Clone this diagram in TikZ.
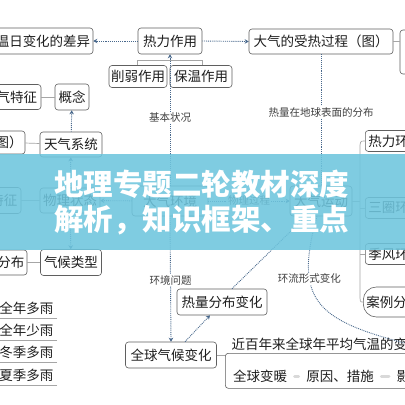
\documentclass[tikz,border=0pt]{standalone}
\usepackage{fontspec}
\setmainfont{Noto Sans CJK SC}
\usetikzlibrary{arrows.meta}

\definecolor{dotblue}{RGB}{72,104,140}
\definecolor{banner}{RGB}{110,197,221}
\definecolor{boxline}{RGB}{95,95,95}
\definecolor{txt}{RGB}{30,30,30}

\begin{document}
\begin{tikzpicture}[x=1pt,y=-1pt,
  box/.style={draw=boxline,line width=0.6pt,rounded corners=3pt,text=txt,inner sep=0pt,font=\fontsize{13.5}{15}\selectfont},
  rbox/.style={box,anchor=west,text width=52pt,inner xsep=3pt,minimum height=21pt,align=left},
  txtn/.style={text=txt,inner sep=1.5pt,minimum height=20pt,font=\fontsize{13.5}{15}\selectfont},
  lbl/.style={fill=white,text=txt!85,inner sep=1pt,font=\fontsize{10.5}{12}\selectfont},
  dline/.style={dotblue,densely dotted,line width=0.9pt},
  arr/.style={dline,-{Stealth[length=4pt,width=4.5pt]}},
  gline/.style={black!35,line width=0.7pt},
  dotc/.style={black!15,line width=3pt,line cap=round,shorten <=6pt,shorten >=6pt}]
\useasboundingbox (0,0) rectangle (405,405);
\clip (0,0) rectangle (405,405);
\fill[white] (0,0) rectangle (405,405);

% top row
\node[box,minimum width=100pt,minimum height=26pt] (rcbh) at (43,41) {温日变化的差异};
\node[box,minimum width=64pt,minimum height=26pt] (rlzy) at (170,41) {热力作用};
\node[box,minimum width=144pt,minimum height=25pt] (srgc) at (321,41.5) {大气的受热过程（图）};
\node[box,minimum width=30pt,minimum height=44pt] (rtop) at (415,52) {};
\node[box,minimum width=58pt,minimum height=22pt] (xrzy) at (138,76.5) {削弱作用};
\node[box,minimum width=62pt,minimum height=22pt] (bwzy) at (201,76.5) {保温作用};

% left column
\node[box,minimum width=48pt,minimum height=25pt] (tqtz) at (17,97) {气特征};
\node[box,minimum width=34pt,minimum height=26pt] (gn) at (72,97) {概念};
\node[box,minimum width=32pt,minimum height=23pt] (tu) at (9,142.5) {图）};
\node[box,minimum width=62pt,minimum height=25pt] (tqxt) at (71,144.5) {天气系统};
\node[box,minimum width=34pt,minimum height=26pt] (tz) at (4,200.5) {特征};
\node[box,minimum width=60pt,minimum height=25pt] (wlzt) at (70,200.5) {物理状态};
\node[box,minimum width=32pt,minimum height=25pt] (fb) at (11,262.5) {分布};
\node[box,minimum width=61pt,minimum height=26pt] (qhlx) at (71,262.5) {气候类型};

% middle
\node[box,minimum width=76pt,minimum height=30pt] (dqhj) at (170,201) {大气环境};
\node[box,minimum width=62pt,minimum height=30pt] (dqyd) at (321,201) {大气运动};

% right column
\node[rbox] (rlhl) at (365,141) {热力环};
\node[rbox] (sqhl) at (365,208) {三圈环};
\node[rbox] (jfhl) at (365,254) {季风环};
\node[rbox,rounded corners=13pt,minimum height=30pt] (alfx) at (363,302) {案例分};

% bottom
\node[box,minimum width=90pt,minimum height=26pt] (rlfb) at (222,302) {热量分布变化};
\node[box,minimum width=91pt,minimum height=26pt] (qqqh) at (171,355) {全球气候变化};
\node[box,minimum width=210pt,minimum height=35pt,anchor=north west] (bhbox) at (225,353) {};
\node[txtn,anchor=west] (jbn) at (230,344) {近百年来全球年平均气温的变};
\node[txtn] (qqbn) at (260,376) {全球变暖};
\node[txtn] (yycs) at (340,376) {原因、措施};
\node[txtn,anchor=west] (yx) at (395,376) {影响};

\node[txtn,anchor=east,inner xsep=3.5pt] (qndy) at (57,308) {全年多雨};
\node[txtn,anchor=east,inner xsep=3.5pt] (qnsy) at (57,330) {全年少雨};
\node[txtn,anchor=east,inner xsep=3.5pt] (djdy) at (57,352) {冬季多雨};
\node[txtn,anchor=east,inner xsep=3.5pt] (xjdy) at (57,375) {夏季多雨};
\draw[gline] (qndy.south east) -- ++(-70,0);
\draw[gline] (qnsy.south east) -- ++(-70,0);
\draw[gline] (djdy.south east) -- ++(-70,0);
\draw[gline] (xjdy.south east) -- ++(-70,0);

% connectors
\draw[arr] (rlzy.west) -- (rcbh.east);
\draw[arr] (rlzy.east) -- (srgc.west);
\draw[gline] (srgc.east) -- (srgc.east -| rtop.west);
\draw[gline] (xrzy.north -| rlzy.west) -- ++(0,-5) -| (bwzy.north -| rlzy.east);
\draw[arr] (dqhj.north) -- node[lbl,pos=0.52] {基本状况} (rlzy.south);
\draw[dline] (srgc.south) -- node[lbl,pos=0.44] {热量在地球表面的分布} (dqyd.north);

\draw[gline] (tqtz) -- (gn);
\draw[arr] (tqxt) -- (gn);
\draw[gline] (tu) -- (tqxt);
\draw[arr] (wlzt) -- (tqxt);
\draw[gline] (tz) -- (wlzt);
\draw[arr] (dqhj) -- (wlzt);
\draw[arr] (wlzt) -- (qhlx);
\draw[gline] (fb) -- (qhlx);
\draw[arr] (dqhj) -- node[lbl] {物理过程} (dqyd);

\draw[gline] (dqyd.east) -- (360,201);
\draw[gline] (rlhl.west) .. controls (360,141) .. (360,150) -- (360,293) .. controls (360,302) .. (alfx.west);
\draw[gline] (sqhl.west) -- ++(-5,0);
\draw[gline] (jfhl.west) -- ++(-5,0);

\draw[arr] (dqhj.south) -- node[lbl,pos=0.51] {环境问题} (qqqh.north);
\draw[dline] ([xshift=-15pt]dqyd.south) -- ([xshift=10pt]rlfb.north);
\draw[arr] ([xshift=14pt]qqqh.north) -- ([xshift=-12pt]rlfb.south);
\coordinate (hlend) at (420,347);
\draw[dline] ([xshift=-4pt]dqyd.south) .. controls (292,305) and (320,322) .. node[lbl,pos=0.3] {环流形式变化} (hlend);
\draw[gline] (qqqh.east) -- (qqqh.east -| bhbox.west);
\draw[dotc] (qqbn) -- (yycs);
\draw[dotc] (yycs) -- (yx);

% banner
\fill[banner,opacity=0.88] (0,154) rectangle (405,250);
\node[white,align=center,font=\fontsize{29.5}{35}\selectfont\bfseries] (bt) at (202,203) {地理专题二轮教材深度\\解析，知识框架、重点};
\end{tikzpicture}
\end{document}
